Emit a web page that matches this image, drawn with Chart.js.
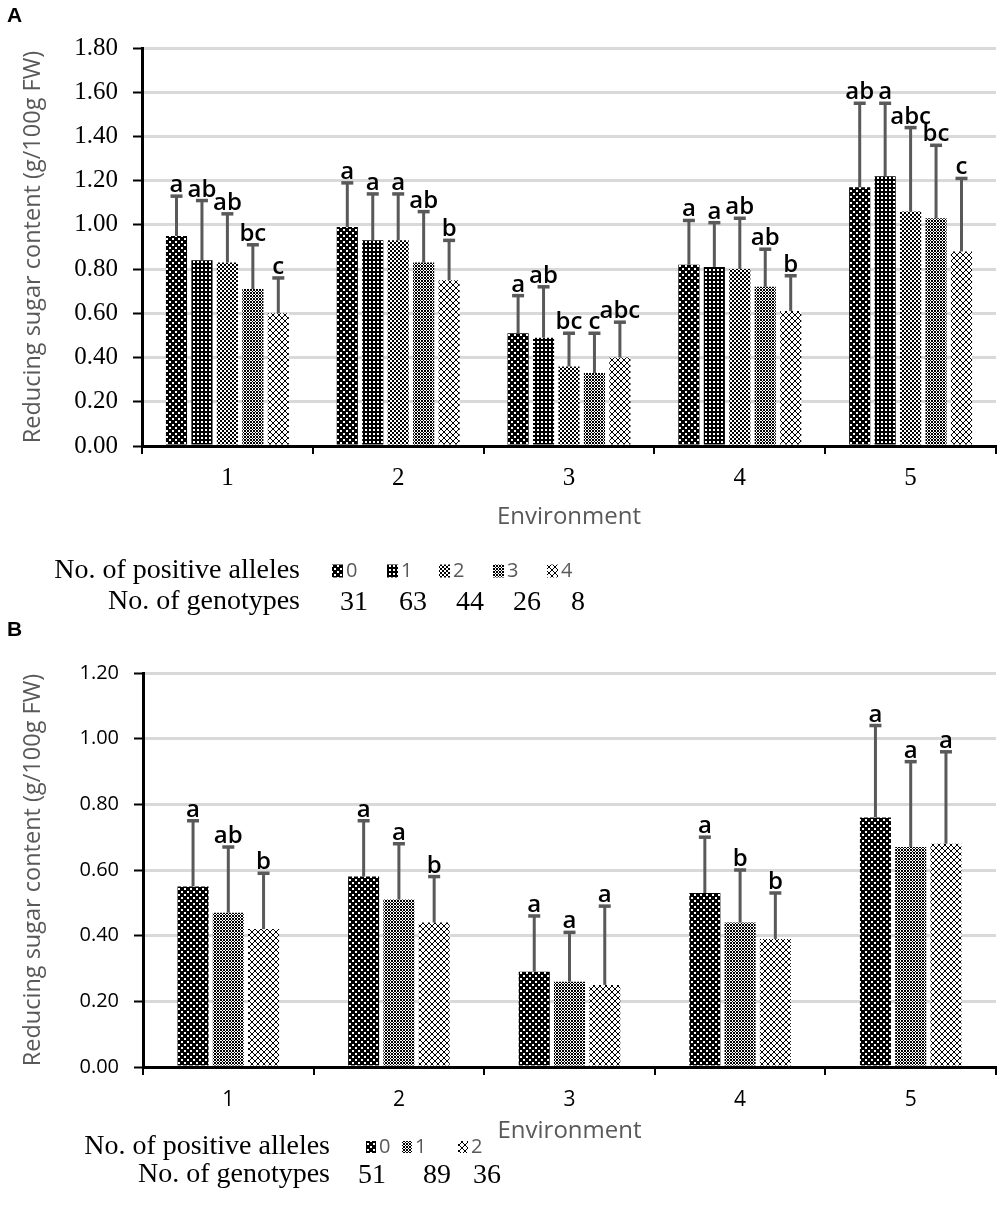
<!DOCTYPE html>
<html lang="en">
<head>
<meta charset="UTF-8">
<title>Reducing sugar content by environment</title>
<script src="https://cdn.jsdelivr.net/npm/chart.js"></script>
<style>
    body { margin: 0; background: #fff; }
    .panel { position: absolute; left: 0; width: 1000px; }
    #panelA { top: 0; height: 620px; }
    #panelB { top: 620px; height: 610px; }
</style>
</head>
<body>
<div class="panel" id="panelA"><canvas id="chartA" width="1000" height="620"></canvas></div>
<div class="panel" id="panelB"><canvas id="chartB" width="1000" height="610"></canvas></div>

<script>
    const environments = ['1', '2', '3', '4', '5'];

    // panel A - 0 to 4 positive alleles
    const allelesA = ['0', '1', '2', '3', '4'];
    const genotypesA = ['31', '63', '44', '26', '8'];
    const meanA0 = [0.95, 0.99, 0.51, 0.82, 1.17];
    const meanA1 = [0.84, 0.93, 0.49, 0.81, 1.22];
    const meanA2 = [0.83, 0.93, 0.36, 0.80, 1.06];
    const meanA3 = [0.71, 0.83, 0.33, 0.72, 1.03];
    const meanA4 = [0.60, 0.75, 0.40, 0.61, 0.88];
    const sdA0 = [0.18, 0.20, 0.17, 0.20, 0.38];
    const sdA1 = [0.27, 0.21, 0.23, 0.20, 0.33];
    const sdA2 = [0.22, 0.21, 0.15, 0.23, 0.38];
    const sdA3 = [0.20, 0.23, 0.18, 0.17, 0.33];
    const sdA4 = [0.16, 0.18, 0.16, 0.16, 0.33];
    const letA0 = ['a', 'a', 'a', 'a', 'ab'];
    const letA1 = ['ab', 'a', 'ab', 'a', 'a'];
    const letA2 = ['ab', 'a', 'bc', 'ab', 'abc'];
    const letA3 = ['bc', 'ab', 'c', 'ab', 'bc'];
    const letA4 = ['c', 'b', 'abc', 'b', 'c'];
    const ticksA = [0, 0.2, 0.4, 0.6, 0.8, 1.0, 1.2, 1.4, 1.6, 1.8];

    // panel B - 0 to 2 positive alleles
    const allelesB = ['0', '1', '2'];
    const genotypesB = ['51', '89', '36'];
    const meanB0 = [0.55, 0.58, 0.29, 0.53, 0.76];
    const meanB1 = [0.47, 0.51, 0.26, 0.44, 0.67];
    const meanB2 = [0.42, 0.44, 0.25, 0.39, 0.68];
    const sdB0 = [0.20, 0.17, 0.17, 0.17, 0.28];
    const sdB1 = [0.20, 0.17, 0.15, 0.16, 0.26];
    const sdB2 = [0.17, 0.14, 0.24, 0.14, 0.28];
    const letB0 = ['a', 'a', 'a', 'a', 'a'];
    const letB1 = ['ab', 'a', 'a', 'b', 'a'];
    const letB2 = ['b', 'b', 'a', 'b', 'a'];
    const ticksB = [0, 0.2, 0.4, 0.6, 0.8, 1.0, 1.2];

    const yTitle = 'Reducing sugar content (g/100g FW)';
    const SANS = '"Open Sans", sans-serif';
    const SERIF = '"Liberation Serif", "Times New Roman", serif';

    // small tiles for the black & white fills
    function makePattern(kind) {
        const size = (kind === 'plaid' || kind === 'check') ? 4 : 6;
        const c = document.createElement('canvas');
        c.width = size; c.height = size;
        const g = c.getContext('2d');
        g.fillStyle = '#fff';
        g.fillRect(0, 0, size, size);
        g.fillStyle = '#000';
        for (let x = 0; x < size; x++) {
            for (let y = 0; y < size; y++) {
                let black = false;
                if (kind === 'dots') black = !((x === 1 || x === 2) && (y === 1 || y === 2)) && !((x === 4 || x === 5) && (y === 4 || y === 5));
                if (kind === 'plaid') black = !(x >= 1 && x <= 2 && y >= 1 && y <= 2);
                if (kind === 'check') black = ((x >> 1) + (y >> 1)) % 2 === 0;
                if (kind === 'diamond') black = (x + y) % 3 === 0 || (x - y + 6) % 3 === 0;
                if (kind === 'cross') black = x === y || x + y === 5;
                if (black) g.fillRect(x, y, 1, 1);
            }
        }
        return g.createPattern(c, 'repeat');
    }

    const fillsA = ['dots', 'plaid', 'check', 'diamond', 'cross'].map(makePattern);
    const fillsB = ['dots', 'diamond', 'cross'].map(makePattern);

    // error bars (upper half only) and significance letters
    const errorBarPlugin = {
        id: 'errorBars',
        afterDatasetsDraw(chart) {
            const ctx = chart.ctx;
            const y = chart.scales.y;
            ctx.save();
            chart.data.datasets.forEach((ds, i) => {
                const meta = chart.getDatasetMeta(i);
                meta.data.forEach((bar, j) => {
                    const top = y.getPixelForValue(ds.data[j] + ds.sd[j]);
                    ctx.strokeStyle = '#595959';
                    ctx.lineWidth = 3;
                    ctx.beginPath();
                    ctx.moveTo(bar.x, bar.y);
                    ctx.lineTo(bar.x, top);
                    ctx.stroke();
                    ctx.lineWidth = 3.5;
                    ctx.beginPath();
                    ctx.moveTo(bar.x - 6, top);
                    ctx.lineTo(bar.x + 6, top);
                    ctx.stroke();
                    ctx.fillStyle = '#000';
                    ctx.font = '600 24px ' + SANS;
                    ctx.textAlign = 'center';
                    ctx.textBaseline = 'alphabetic';
                    ctx.fillText(ds.letters[j], bar.x, top - 4);
                });
            });
            ctx.restore();
        }
    };

    // panel letter and the allele / genotype key under each chart
    const keyPlugin = {
        id: 'alleleKey',
        afterDraw(chart) {
            const k = chart.options.plugins.alleleKey;
            const ctx = chart.ctx;
            ctx.save();
            ctx.fillStyle = '#000';
            ctx.font = 'bold 21px "Liberation Sans", Arial, sans-serif';
            ctx.textAlign = 'left';
            ctx.textBaseline = 'middle';
            ctx.fillText(k.panel, 7, k.panelY);

            ctx.font = '28px ' + SERIF;
            ctx.textAlign = 'right';
            ctx.fillText('No. of positive alleles', k.labelRight, k.row1);
            ctx.fillText('No. of genotypes', k.labelRight, k.row2);

            k.alleles.forEach((a, i) => {
                ctx.fillStyle = k.fills[i];
                ctx.fillRect(k.swatchX[i], k.row1 - k.sw / 2 - 1, k.sw, k.sw + 2);
                ctx.fillStyle = '#595959';
                ctx.font = '20px ' + SANS;
                ctx.textAlign = 'left';
                ctx.fillText(a, k.swatchX[i] + k.sw + 3, k.row1);
            });
            ctx.fillStyle = '#000';
            ctx.font = '28px ' + SERIF;
            ctx.textAlign = 'center';
            k.genotypes.forEach((n, i) => ctx.fillText(n, k.numX[i], k.row2 + 1));
            ctx.restore();
        }
    };

    function buildChart(id, o) {
        const datasets = o.means.map((m, i) => ({
            label: o.alleles[i],
            data: m,
            sd: o.sds[i],
            letters: o.letters[i],
            backgroundColor: o.fills[i],
            borderWidth: 0,
            categoryPercentage: o.catPct,
            barPercentage: o.barPct
        }));
        return new Chart(document.getElementById(id), {
            type: 'bar',
            data: { labels: environments, datasets: datasets },
            plugins: [errorBarPlugin, keyPlugin],
            options: {
                responsive: false,
                animation: false,
                layout: { padding: { top: o.padTop, right: 4, left: 0, bottom: 0 } },
                plugins: {
                    legend: { display: false },
                    tooltip: { enabled: false },
                    alleleKey: o.key
                },
                scales: {
                    x: {
                        afterFit: s => { s.height = o.xHeight; },
                        grid: { drawOnChartArea: false, drawTicks: true, tickLength: 8, color: '#000', lineWidth: 2, offset: true },
                        border: { color: '#000', width: 3 },
                        ticks: { color: '#000', font: o.xFont, padding: o.xPad },
                        title: { display: true, text: 'Environment', color: '#595959', font: { family: SANS, size: 24 }, padding: { top: 0, bottom: o.titlePad } }
                    },
                    y: {
                        min: 0,
                        max: o.ticks[o.ticks.length - 1],
                        afterFit: s => { s.width = o.yWidth; },
                        afterBuildTicks: s => { s.ticks = o.ticks.map(v => ({ value: v })); },
                        grid: { color: '#d9d9d9', lineWidth: 3, tickColor: '#000', tickLength: 9, tickWidth: 2 },
                        border: { color: '#000', width: 3 },
                        ticks: { color: '#000', font: o.yFont, padding: 15, callback: v => v.toFixed(2) },
                        title: { display: true, text: yTitle, color: '#595959', font: { family: SANS, size: 23.5 }, padding: { top: 19, bottom: 0 } }
                    }
                }
            }
        });
    }

    buildChart('chartA', {
        alleles: allelesA,
        means: [meanA0, meanA1, meanA2, meanA3, meanA4],
        sds: [sdA0, sdA1, sdA2, sdA3, sdA4],
        letters: [letA0, letA1, letA2, letA3, letA4],
        fills: fillsA,
        ticks: ticksA,
        catPct: 0.745, barPct: 0.83,
        padTop: 48, xHeight: 174, yWidth: 142,
        xFont: { family: SERIF, size: 25 }, xPad: 9, titlePad: 88,
        yFont: { family: SERIF, size: 25 },
        key: {
            panel: 'A', panelY: 16,
            alleles: allelesA, genotypes: genotypesA, fills: fillsA,
            labelRight: 300, row1: 571, row2: 602, sw: 11,
            swatchX: [332, 387, 439, 493, 547],
            numX: [354, 413, 470, 527, 578]
        }
    });

    buildChart('chartB', {
        alleles: allelesB,
        means: [meanB0, meanB1, meanB2],
        sds: [sdB0, sdB1, sdB2],
        letters: [letB0, letB1, letB2],
        fills: fillsB,
        ticks: ticksB,
        catPct: 0.62, barPct: 0.88,
        padTop: 53, xHeight: 163, yWidth: 143,
        xFont: { family: SANS, size: 21 }, xPad: 12, titlePad: 84,
        yFont: { family: SANS, size: 20 },
        key: {
            panel: 'B', panelY: 10,
            alleles: allelesB, genotypes: genotypesB, fills: fillsB,
            labelRight: 330, row1: 527, row2: 555, sw: 10,
            swatchX: [366, 402, 458],
            numX: [372, 437, 487]
        }
    });
</script>
</body>
</html>
